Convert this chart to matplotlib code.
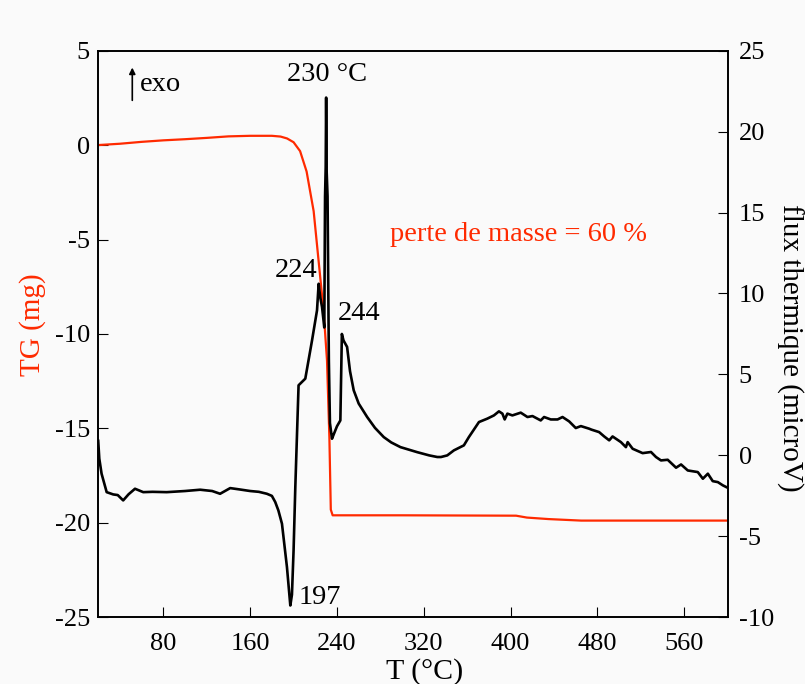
import matplotlib
matplotlib.use("Agg")
import matplotlib.pyplot as plt

plt.rcParams['font.family'] = ['Liberation Serif', 'DejaVu Serif']
plt.rcParams['axes.unicode_minus'] = False

# TG (perte de masse), axe de gauche
tg_T = [20, 40, 60, 80, 100, 120, 140, 160, 180, 188, 194, 200, 206, 212,
        218.5, 223, 227.7, 230.8, 233, 234.3, 236, 300, 405, 415, 435, 465, 600]
tg_mg = [0.0, 0.07, 0.17, 0.25, 0.31, 0.38, 0.46, 0.49, 0.49, 0.45, 0.35, 0.15,
         -0.32, -1.4, -3.5, -6.1, -8.8, -11.4, -15.5, -19.3, -19.6, -19.6,
         -19.62, -19.72, -19.8, -19.88, -19.88]

# ATD (flux thermique), axe de droite
dta_T = [20, 21, 23.1, 27.8, 33.8, 38, 43, 48, 53.9, 61.5, 70, 83.1, 100, 113.9,
         125, 132.3, 141.6, 150, 160, 168, 175.4, 180, 183.1, 186, 189.3, 193.9,
         197, 198.5, 200, 201.6, 204.6, 210.8, 217, 221.6, 223.1, 224.5, 226.2,
         228.3, 229.0, 229.6, 230.0, 230.5, 231.3, 232.5, 233.5, 235.4, 237,
         240, 243.1, 244.5, 246, 249.3, 252, 255.4, 260, 267.8, 275, 283.1, 290,
         298.5, 313.9, 325, 332.4, 335.8, 341.6, 347.7, 356.9, 361.5, 367.7,
         370.8, 378.5, 384.6, 389.2, 392.4, 394.5, 397, 401.6, 409.3, 415.5,
         420.1, 427.7, 430.8, 437, 443.2, 447.8, 453.9, 460, 464.7, 472.3, 474.5,
         481.5, 486.2, 490.8, 493.9, 501.6, 506.2, 507.8, 512.4, 521.6, 529.3,
         533.9, 538.5, 544.7, 552.4, 557, 563.2, 572.4, 577.1, 581.7, 586.2,
         590.9, 595.5, 600]
dta_uv = [0.9, -0.2, -1.13, -2.27, -2.41, -2.45, -2.78, -2.4, -2.06, -2.27, -2.25,
          -2.27, -2.2, -2.12, -2.2, -2.37, -2.02, -2.1, -2.2, -2.25, -2.37, -2.5,
          -2.88, -3.4, -4.22, -6.9, -9.27, -8.6, -5.87, -1.96, 4.33, 4.74, 7.1,
          8.96, 10.6, 9.8, 9.17, 7.9, 16.0, 17.8, 22.1, 17.5, 16.0, 5.9, 2.0,
          1.03, 1.3, 1.8, 2.16, 7.5, 7.1, 6.7, 5.2, 4.02, 3.2, 2.37, 1.7, 1.13,
          0.8, 0.51, 0.2, 0.0, -0.1, -0.1, 0.0, 0.31, 0.62, 1.13, 1.75, 2.06,
          2.27, 2.47, 2.72, 2.58, 2.22, 2.58, 2.47, 2.64, 2.37, 2.43, 2.16, 2.37,
          2.22, 2.22, 2.37, 2.1, 1.69, 1.81, 1.65, 1.59, 1.44, 1.17, 0.93, 1.17,
          0.82, 0.51, 0.82, 0.41, 0.14, 0.21, -0.1, -0.31, -0.27, -0.76, -0.56,
          -0.93, -1.03, -1.44, -1.13, -1.59, -1.65, -1.85, -2.0]

bg = '#fafafa'
fig = plt.figure(figsize=(8.05, 6.84), dpi=100, facecolor=bg)
ax = fig.add_axes([0.122, 0.0975, 0.782, 0.8285], facecolor=bg)
ax2 = ax.twinx()

ax.plot(tg_T, tg_mg, color='#ff2a00', lw=1.6)
ax2.plot(dta_T, dta_uv, color='black', lw=1.9)

ax.set_xlim(20, 600)
ax.set_ylim(-25, 5)
ax2.set_ylim(-10, 25)
ax.set_xticks([80, 160, 240, 320, 400, 480, 560])
ax.set_yticks([-25, -20, -15, -10, -5, 0, 5])
ax2.set_yticks([-10, -5, 0, 5, 10, 15, 20, 25])

ax.tick_params(axis='x', direction='in', length=7, labelsize=19, pad=11, top=False)
ax.tick_params(axis='y', direction='in', length=7, labelsize=19, pad=6, right=False)
ax2.tick_params(axis='y', direction='in', length=7, labelsize=19, pad=8, left=False)

for a in (ax, ax2):
    for s in a.spines.values():
        s.set_linewidth(1.2)

fig.text(0.528, 0.018, 'T (°C)', fontsize=21.5, ha='center', va='center')
fig.text(0.041, 0.526, 'TG (mg)', fontsize=21, ha='center', va='center',
         rotation=90, color='#ff2a00')
fig.text(0.981, 0.492, 'flux thermique (microV)', fontsize=21, ha='center',
         va='center', rotation=270)

ax.annotate('', xy=(51.4, 4.25), xytext=(51.4, 2.22),
            arrowprops=dict(arrowstyle='-|>', color='black', lw=1.2,
                            mutation_scale=9))
ax.text(58.3, 3.21, 'exo', fontsize=20.5, va='center', ha='left')
ax2.text(230.5, 23.5, '230 °C', fontsize=20.5, ha='center', va='center')
ax2.text(202.5, 11.43, '224', fontsize=20.5, ha='center', va='center')
ax2.text(260.2, 8.78, '244', fontsize=20.5, ha='center', va='center')
ax2.text(224.4, -8.76, '197', fontsize=20.5, ha='center', va='center')
ax.text(289, -4.75, 'perte de masse = 60 %', fontsize=20.5, color='#ff2a00',
        ha='left', va='center')

fig.savefig('out.png', dpi=100, facecolor=bg)
